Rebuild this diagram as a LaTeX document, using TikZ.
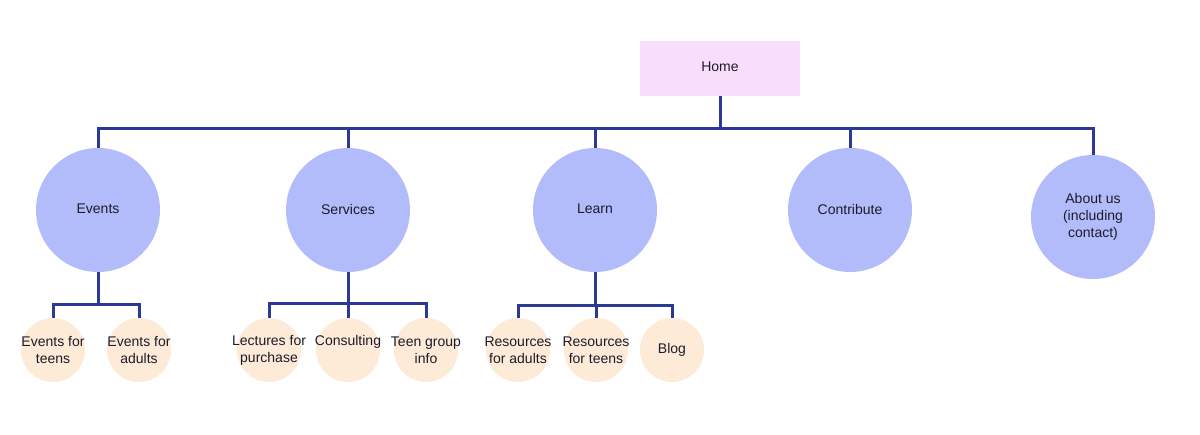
\documentclass[tikz,border=0pt]{standalone}
\usepackage{fontspec}
\setmainfont{Liberation Sans}
\definecolor{homepink}{HTML}{F9DEFC}
\definecolor{mainblue}{HTML}{B3BCFB}
\definecolor{subpeach}{HTML}{FDEBD8}
\definecolor{linkblue}{HTML}{2B3994}
\definecolor{inkdark}{HTML}{1B1B2A}
\tikzset{
 page/.style={rectangle, fill=homepink, minimum width=160pt, minimum height=55pt},
 section/.style={circle, fill=mainblue, minimum size=124pt, inner sep=0pt, align=center},
 subpage/.style={circle, fill=subpeach, minimum size=64pt, inner sep=0pt},
 link/.style={draw=linkblue, line width=3pt},
 inside/.style={label={[align=center, inkdark]center:#1}},
 insidehigh/.style={label={[align=center, inkdark, yshift=8pt]center:#1}}
}
\begin{document}
\begin{tikzpicture}[x=1pt, y=-1pt, font=\fontsize{14}{17}\selectfont, text=inkdark]
 \useasboundingbox (0,0) rectangle (1200,434);
 % top level
 \node[page] (home) at (720,68) {\raisebox{2pt}{Home}};
 \node[section] (events) at (98,210) {\raisebox{2pt}{Events}};
 \node[section] (services) at (348,210) {\raisebox{2pt}{Services}};
 \node[section] (learn) at (595,210) {\raisebox{2pt}{Learn}};
 \node[section] (contribute) at (850,210) {\raisebox{2pt}{Contribute}};
 \node[section] (about) at (1093,217) {About us\\(including\\contact)};
 % second level
 \node[subpage, inside={Events for\\teens}] (evteens) at (53,350) {};
 \node[subpage, inside={Events for\\adults}] (evadults) at (139,350) {};
 \node[subpage, inside={Lectures for\\purchase}] (lectures) at (269,350) {};
 \node[subpage, insidehigh={Consulting}] (consulting) at (348,350) {};
 \node[subpage, inside={Teen group\\info}] (teengroup) at (426,350) {};
 \node[subpage, inside={Resources\\for adults}] (resadults) at (518,350) {};
 \node[subpage, inside={Resources\\for teens}] (resteens) at (596,350) {};
 \node[subpage, inside={Blog}] (blog) at (672,350) {};
 % buses
 \coordinate (bus) at (720,128);
 \coordinate (evbus) at (98,304);
 \coordinate (svbus) at (348,303);
 \coordinate (lnbus) at (595,305);
 \draw[link] (home) -- (bus);
 \draw[link, line cap=rect] (events |- bus) -- (about |- bus);
 \foreach \n in {events,services,learn,contribute,about}
  \draw[link] (\n |- bus) -- (\n);
 \draw[link] (events) -- (evbus);
 \draw[link, line cap=rect] (evteens |- evbus) -- (evadults |- evbus);
 \foreach \n in {evteens,evadults}
  \draw[link] (\n |- evbus) -- (\n);
 \draw[link] (services) -- (svbus);
 \draw[link, line cap=rect] (lectures |- svbus) -- (teengroup |- svbus);
 \foreach \n in {lectures,consulting,teengroup}
  \draw[link] (\n |- svbus) -- (\n);
 \draw[link] (learn) -- (lnbus);
 \draw[link, line cap=rect] (resadults |- lnbus) -- (blog |- lnbus);
 \foreach \n in {resadults,resteens,blog}
  \draw[link] (\n |- lnbus) -- (\n);
\end{tikzpicture}
\end{document}
